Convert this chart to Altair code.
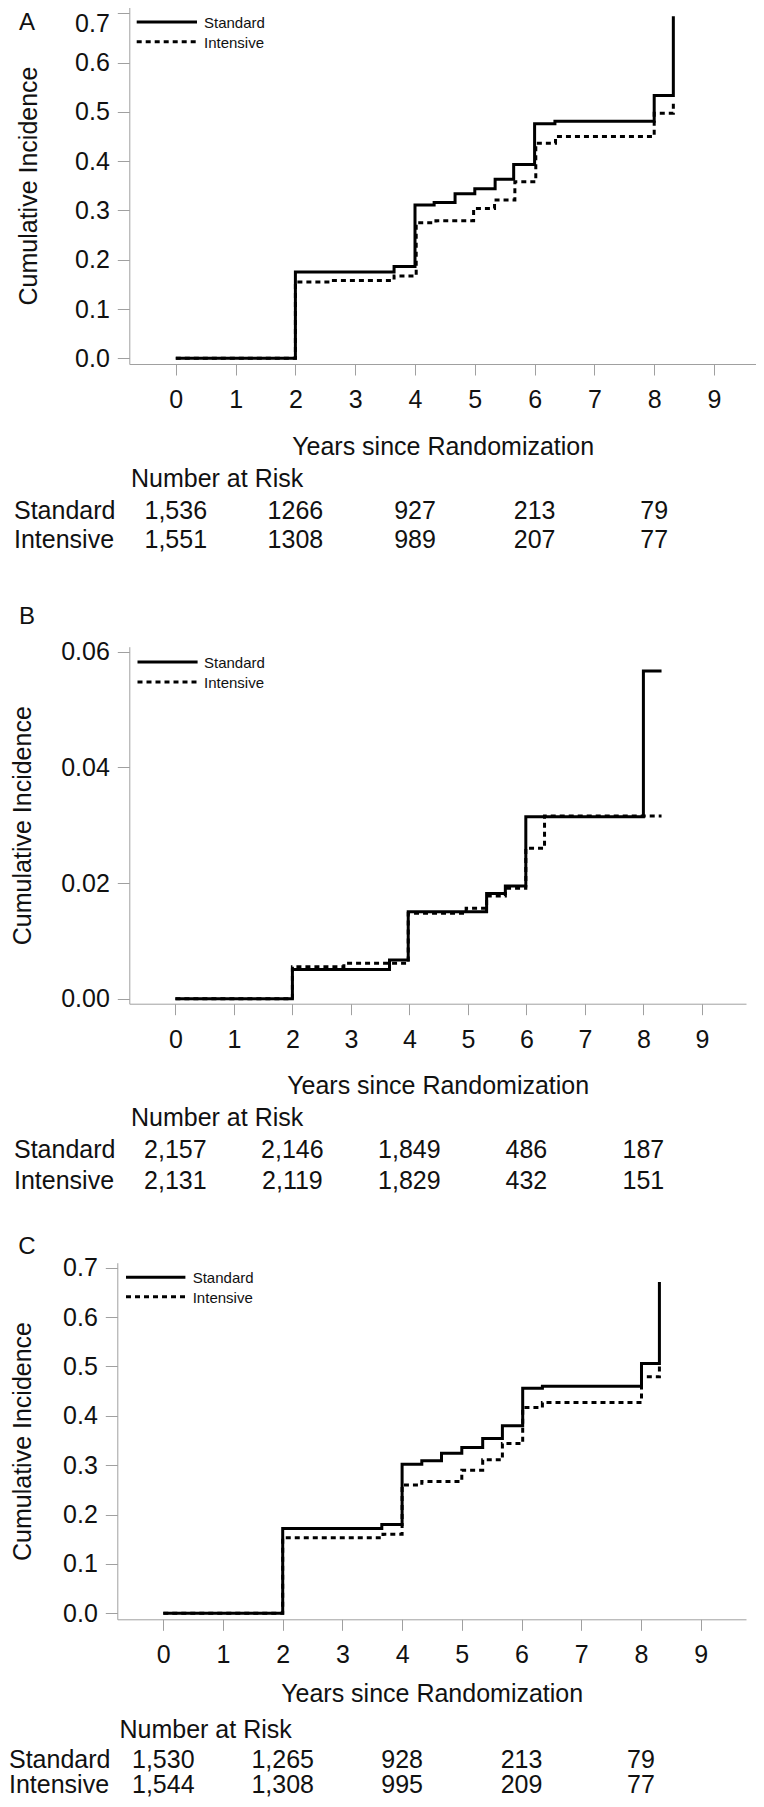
import altair as alt
import pandas as pd

W, H = 748, 1791
FONT = "Liberation Sans"
GRAY = "#a0a0a0"
INK = "#111111"

year_ticks = list(range(10))
risk_years = [0, 2, 4, 6, 8]
series_names = ["Standard", "Intensive"]

# ---------------- Panel A ----------------
a_std_t = [0, 2.0, 3.65, 4.0, 4.32, 4.67, 5.0, 5.34, 5.65, 6.0, 6.34, 8.0, 8.32]
a_std_v = [0, 0.175, 0.186, 0.311, 0.316, 0.334, 0.344, 0.363, 0.393, 0.476, 0.481, 0.533, 0.694]
a_int_t = [0, 2.0, 2.6, 3.65, 4.02, 4.35, 4.98, 5.33, 5.67, 6.02, 6.35, 8.0, 8.32]
a_int_v = [0, 0.155, 0.158, 0.167, 0.275, 0.279, 0.304, 0.321, 0.358, 0.436, 0.450, 0.497, 0.520]
a_risk_std = ["1,536", "1266", "927", "213", "79"]
a_risk_int = ["1,551", "1308", "989", "207", "77"]
a_yticks = [0, 0.1, 0.2, 0.3, 0.4, 0.5, 0.6, 0.7]

# ---------------- Panel B ----------------
b_std_t = [0, 2.0, 3.66, 3.98, 5.32, 5.64, 5.99, 8.0, 8.31]
b_std_v = [0, 0.00507, 0.00669, 0.01504, 0.01821, 0.01948, 0.03147, 0.05666, 0.05666]
b_int_t = [0, 2.0, 2.88, 3.98, 4.97, 5.32, 5.64, 5.99, 6.31, 8.31]
b_int_v = [0, 0.00553, 0.00611, 0.01476, 0.01562, 0.01775, 0.01908, 0.0260, 0.03159, 0.03159]
b_risk_std = ["2,157", "2,146", "1,849", "486", "187"]
b_risk_int = ["2,131", "2,119", "1,829", "432", "151"]
b_yticks = [0, 0.02, 0.04, 0.06]

# ---------------- Panel C ----------------
c_std_t = [0, 2.0, 3.66, 4.0, 4.33, 4.66, 5.0, 5.35, 5.68, 6.02, 6.35, 8.01, 8.31]
c_std_v = [0, 0.172, 0.180, 0.302, 0.309, 0.324, 0.336, 0.354, 0.380, 0.456, 0.460, 0.506, 0.671]
c_int_t = [0, 2.0, 3.68, 4.0, 4.33, 5.0, 5.35, 5.68, 6.02, 6.35, 8.01, 8.31]
c_int_v = [0, 0.153, 0.160, 0.260, 0.267, 0.290, 0.311, 0.344, 0.417, 0.427, 0.479, 0.500]
c_risk_std = ["1,530", "1,265", "928", "213", "79"]
c_risk_int = ["1,544", "1,308", "995", "209", "77"]
c_yticks = [0, 0.1, 0.2, 0.3, 0.4, 0.5, 0.6, 0.7]

# layout (chart pixel coordinates) for each panel
LAYOUT = {
    "A": dict(x0=167.8, xunit=59.8, left=121.3, right=748, y0=350.3, yunit=493.0,
              bottom=356.0, top=-1.0, ytitle_pad=27.4, xtitle_pad=30.2, xlabel_pad=12,
              top_label_shift=10,
              letter_y=14.5, nar_x=123, nar_y=470.5, std_y=502.5, int_y=531.5, row_x=6,
              leg_x0=128.7, leg_x1=189.0, leg_y_std=14.0, leg_y_int=33.7, leg_tx=196.0),
    "B": dict(x0=167.4, xunit=58.5, left=121.3, right=738, y0=990.7, yunit=5783.0,
              bottom=995.7, top=638.7, ytitle_pad=33.4, xtitle_pad=30.0, xlabel_pad=12.5,
              top_label_shift=0,
              letter_y=608.5, nar_x=123, nar_y=1110.0, std_y=1142.0, int_y=1173.0, row_x=6,
              leg_x0=129.5, leg_x1=189.6, leg_y_std=654.0, leg_y_int=674.0, leg_tx=196.0),
    "C": dict(x0=155.3, xunit=59.7, left=109.3, right=738, y0=1605.3, yunit=493.7,
              bottom=1611.3, top=1254.7, ytitle_pad=21.4, xtitle_pad=22.0, xlabel_pad=12,
              top_label_shift=0,
              letter_y=1238.5, nar_x=111.5, nar_y=1722.0, std_y=1751.5, int_y=1777.0, row_x=1,
              leg_x0=118.0, leg_x1=177.4, leg_y_std=1269.3, leg_y_int=1288.7, leg_tx=184.7),
}


def text_layer(txt, x, y, size=25, align="left"):
    return alt.Chart(pd.DataFrame({"s": [txt]})).mark_text(
        align=align, baseline="middle", font=FONT, fontSize=size, color=INK
    ).encode(text="s:N", x=alt.value(x), y=alt.value(y))


def panel(letter, std_t, std_v, int_t, int_v, risk_std, risk_int, yticks, yfmt):
    L = LAYOUT[letter]
    xdom = [(L["left"] - L["x0"]) / L["xunit"], (L["right"] - L["x0"]) / L["xunit"]]
    ydom = [(L["y0"] - L["bottom"]) / L["yunit"], (L["y0"] - L["top"]) / L["yunit"]]
    xs = alt.Scale(domain=xdom, range=[L["left"], L["right"]], nice=False, zero=False)
    ys = alt.Scale(domain=ydom, range=[L["bottom"], L["top"]], nice=False, zero=False)

    common = dict(grid=False, domainColor=GRAY, domainWidth=1, tickColor=GRAY, tickWidth=1,
                  labelFont=FONT, labelFontSize=25, labelColor=INK, labelOverlap=False,
                  labelFlush=False, titleFont=FONT, titleFontSize=25, titleFontWeight="normal",
                  titleColor=INK)
    xaxis = alt.Axis(orient="bottom", offset=L["bottom"] - H, values=year_ticks, format="d",
                     title="Years since Randomization", tickSize=11,
                     labelPadding=L["xlabel_pad"], minExtent=40, maxExtent=40,
                     titlePadding=L["xtitle_pad"], **common)
    top_val = max(yticks)
    yaxis = alt.Axis(orient="left", offset=-L["left"], values=yticks, format=yfmt,
                     title="Cumulative Incidence", tickSize=12, labelPadding=8,
                     labelOffset={"condition": {"test": f"datum.value >= {top_val * 0.99}",
                                                "value": L["top_label_shift"]},
                                  "value": 0},
                     minExtent=60, maxExtent=60, titlePadding=L["ytitle_pad"], **common)

    X = alt.X("t:Q", scale=xs, axis=xaxis)
    Y = alt.Y("v:Q", scale=ys, axis=yaxis)

    line_kw = dict(interpolate="step-after", color="black", strokeWidth=3,
                   strokeJoin="miter", strokeCap="butt")
    std = alt.Chart(pd.DataFrame({"t": std_t, "v": std_v})).mark_line(**line_kw).encode(x=X, y=Y)
    inten = alt.Chart(pd.DataFrame({"t": int_t, "v": int_v})).mark_line(
        strokeDash=[5, 4], **line_kw).encode(x=X, y=Y)

    def risk_row(vals, y):
        return alt.Chart(pd.DataFrame({"t": risk_years, "n": vals})).mark_text(
            align="center", baseline="middle", font=FONT, fontSize=25, color=INK
        ).encode(x=X, y=alt.value(y), text="n:N")

    layers = [std, inten, risk_row(risk_std, L["std_y"]), risk_row(risk_int, L["int_y"])]

    # legend
    for name, ly, dash in [(series_names[0], L["leg_y_std"], None),
                           (series_names[1], L["leg_y_int"], [5, 4])]:
        rk = dict(color="black", strokeWidth=3, strokeCap="butt")
        if dash:
            rk["strokeDash"] = dash
        layers.append(alt.Chart(pd.DataFrame({"s": [name]})).mark_rule(**rk).encode(
            x=alt.value(L["leg_x0"]), x2=alt.value(L["leg_x1"]), y=alt.value(ly)))
        layers.append(text_layer(name, L["leg_tx"], ly + 1, size=15))

    # number at risk table labels and panel letter
    layers.append(text_layer("Number at Risk", L["nar_x"], L["nar_y"]))
    layers.append(text_layer(series_names[0], L["row_x"], L["std_y"]))
    layers.append(text_layer(series_names[1], L["row_x"], L["int_y"]))
    layers.append(text_layer(letter, 19, L["letter_y"], size=24, align="center"))
    return alt.layer(*layers)


pa = panel("A", a_std_t, a_std_v, a_int_t, a_int_v, a_risk_std, a_risk_int, a_yticks, ".1f")
pb = panel("B", b_std_t, b_std_v, b_int_t, b_int_v, b_risk_std, b_risk_int, b_yticks, ".2f")
pc = panel("C", c_std_t, c_std_v, c_int_t, c_int_v, c_risk_std, c_risk_int, c_yticks, ".1f")

chart = alt.layer(pa, pb, pc).resolve_scale(
    x="independent", y="independent"
).resolve_axis(
    x="independent", y="independent"
).properties(
    width=W, height=H, padding=0,
    autosize=alt.AutoSizeParams(type="none"),
    background="white",
).configure_view(stroke=None)

chart.save("out.html", embed_options={"renderer": "svg", "actions": False})
